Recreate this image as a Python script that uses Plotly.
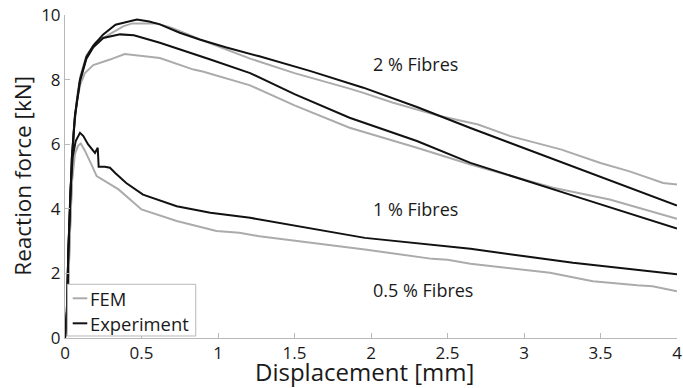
import plotly.graph_objects as go

# ---- data ----
x_exp_2 = [0, 0.012, 0.022, 0.033, 0.045, 0.065, 0.098, 0.14, 0.185, 0.25, 0.33, 0.47, 0.55, 0.62, 0.75, 0.88, 1.05, 1.27, 1.6, 1.95, 2.3, 2.65, 3.32, 4.0]
y_exp_2 = [0, 0.8, 2.7, 4.4, 5.6, 6.9, 8.0, 8.7, 9.05, 9.4, 9.7, 9.86, 9.8, 9.71, 9.45, 9.24, 9.0, 8.72, 8.27, 7.75, 7.15, 6.5, 5.32, 4.10]

x_fem_2 = [0, 0.015, 0.03, 0.045, 0.06, 0.08, 0.1, 0.14, 0.2, 0.29, 0.38, 0.44, 0.6, 0.7, 0.88, 1.21, 1.5, 1.86, 1.95, 2.14, 2.45, 2.7, 2.91, 3.24, 3.5, 3.69, 3.91, 4.0]
y_fem_2 = [0, 0.5, 3.0, 5.0, 6.5, 7.5, 8.1, 8.75, 9.15, 9.4, 9.65, 9.74, 9.74, 9.6, 9.25, 8.65, 8.2, 7.72, 7.59, 7.29, 6.87, 6.61, 6.25, 5.84, 5.42, 5.16, 4.80, 4.75]

x_exp_1 = [0, 0.012, 0.022, 0.033, 0.045, 0.065, 0.098, 0.14, 0.185, 0.25, 0.36, 0.45, 0.62, 0.95, 1.21, 1.5, 1.86, 2.3, 2.65, 3.30, 4.0]
y_exp_1 = [0, 0.8, 2.7, 4.4, 5.6, 6.85, 7.95, 8.65, 9.0, 9.29, 9.40, 9.37, 9.14, 8.62, 8.2, 7.55, 6.82, 6.1, 5.42, 4.44, 3.39]

x_fem_1 = [0, 0.015, 0.03, 0.045, 0.054, 0.076, 0.1, 0.13, 0.185, 0.294, 0.39, 0.62, 0.84, 0.9, 1.21, 1.5, 1.86, 2.3, 2.65, 3.19, 3.56, 4.0]
y_fem_1 = [0, 0.5, 3.0, 5.2, 6.3, 7.3, 7.85, 8.2, 8.45, 8.62, 8.79, 8.67, 8.31, 8.25, 7.82, 7.2, 6.51, 5.89, 5.37, 4.65, 4.29, 3.69]

x_exp_05 = [0, 0.012, 0.022, 0.035, 0.05, 0.07, 0.098, 0.12, 0.15, 0.196, 0.214, 0.22, 0.26, 0.294, 0.33, 0.4, 0.51, 0.73, 0.95, 1.21, 1.96, 2.65, 3.32, 4.0]
y_exp_05 = [0, 0.8, 2.7, 4.5, 5.6, 6.1, 6.35, 6.25, 6.0, 5.73, 5.89, 5.30, 5.30, 5.27, 5.1, 4.8, 4.44, 4.08, 3.88, 3.72, 3.10, 2.76, 2.33, 1.97]

x_fem_05 = [0, 0.015, 0.03, 0.045, 0.065, 0.085, 0.103, 0.13, 0.17, 0.207, 0.35, 0.50, 0.73, 0.99, 1.14, 1.27, 1.96, 2.4, 2.5, 2.65, 3.17, 3.45, 3.74, 3.84, 4.0]
y_fem_05 = [0, 0.5, 3.0, 4.8, 5.7, 5.95, 6.02, 5.8, 5.4, 5.01, 4.60, 3.98, 3.62, 3.31, 3.26, 3.15, 2.74, 2.45, 2.42, 2.30, 2.02, 1.76, 1.63, 1.60, 1.45]

labels = ["2 % Fibres", "1 % Fibres", "0.5 % Fibres"]
label_x = [2.29, 2.29, 2.34]
label_y = [8.47, 3.98, 1.48]

legend_names = ["FEM", "Experiment"]

x_ticks = [0, 0.5, 1, 1.5, 2, 2.5, 3, 3.5, 4]
x_ticktext = ["0", "0.5", "1", "1.5", "2", "2.5", "3", "3.5", "4"]
y_ticks = [0, 2, 4, 6, 8, 10]

GRAY = "#ababab"
BLACK = "#111111"
AXC = "#b8b8b8"
TXT = "#1a1a1a"
FONT = "Open Sans"

fig = go.Figure()
fem = [(x_fem_2, y_fem_2), (x_fem_1, y_fem_1), (x_fem_05, y_fem_05)]
exp = [(x_exp_2, y_exp_2), (x_exp_1, y_exp_1), (x_exp_05, y_exp_05)]
for i, (xs, ys) in enumerate(fem):
    fig.add_trace(go.Scatter(x=xs, y=ys, mode="lines", name=legend_names[0], legendgroup="fem",
                             showlegend=False, line=dict(color=GRAY, width=2)))
for i, (xs, ys) in enumerate(exp):
    fig.add_trace(go.Scatter(x=xs, y=ys, mode="lines", name=legend_names[1], legendgroup="exp",
                             showlegend=False, line=dict(color=BLACK, width=2)))

for t, lx, ly in zip(labels, label_x, label_y):
    fig.add_annotation(x=lx, y=ly, text=t, showarrow=False,
                       font=dict(family=FONT, size=18, color=TXT))

# axis titles
fig.add_annotation(xref="paper", yref="paper", x=0.4886, y=-0.1022, yanchor="middle",
                   text="Displacement [mm]", showarrow=False,
                   font=dict(family=FONT, size=24, color=TXT))
fig.add_annotation(xref="paper", yref="paper", x=-0.07, y=0.503, xanchor="center",
                   text="Reaction force [kN]", showarrow=False, textangle=-90,
                   font=dict(family=FONT, size=22.5, color=TXT))

# legend box (drawn as in the reference: short sample lines)
fig.add_shape(type="rect", xref="paper", yref="paper", x0=0.0038, x1=0.2136, y0=0.0062, y1=0.1663,
              line=dict(color=AXC, width=1), fillcolor="white", layer="above")
for name, col, ly in zip(legend_names, [GRAY, BLACK], [0.1229, 0.0455]):
    fig.add_shape(type="line", xref="paper", yref="paper", x0=0.0126, x1=0.0364, y0=ly, y1=ly,
                  line=dict(color=col, width=2), layer="above")
    fig.add_annotation(xref="paper", yref="paper", x=0.0376, y=ly, xanchor="left", yanchor="middle",
                       text=name, showarrow=False, font=dict(family=FONT, size=18.4, color=TXT))

axis_common = dict(showline=True, linecolor=AXC, linewidth=1, ticks="inside",
                   ticklen=5, tickcolor=AXC, showgrid=False, zeroline=False, automargin=False,
                   tickfont=dict(family=FONT, size=17, color=TXT), mirror=False)

fig.update_xaxes(range=[0, 4], tickvals=x_ticks, ticktext=x_ticktext, ticklabelstandoff=0, **axis_common)
fig.update_yaxes(range=[0, 10], tickvals=y_ticks, **axis_common)

fig.update_layout(
    width=683, height=388,
    margin=dict(l=65, r=6, t=15, b=50, autoexpand=False),
    plot_bgcolor="white", paper_bgcolor="white",
    font=dict(family=FONT, color=TXT),
    showlegend=False,
)

fig.write_html("out.html")
